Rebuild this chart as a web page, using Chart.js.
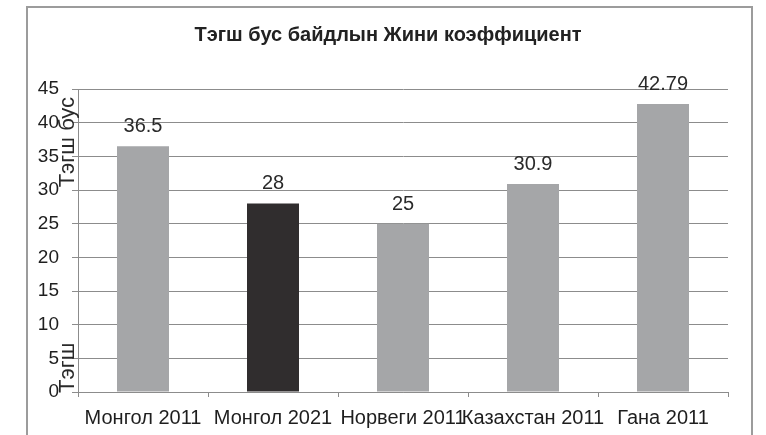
<!DOCTYPE html>
<html lang="mn">
  <head>
    <meta charset="UTF-8" />
    <title>Жини коэффициент</title>
    <script src="https://cdn.jsdelivr.net/npm/chart.js@4.4.0/dist/chart.umd.min.js"></script>
    <style>
      body { margin: 0; background: #fff; }
      #frame { position: absolute; left: 26px; top: 6px; width: 723px; height: 500px;
               border: 2px solid #9c9c9c; border-bottom: none; }
      #wrap { position: absolute; left: 0; top: 0; width: 766px; height: 435px; }
    </style>
  </head>
  <body>
    <div id="frame"></div>
    <div id="wrap"><canvas id="myChart" width="766" height="435"></canvas></div>

    <script>
      // values
      const countries = ['Монгол 2011', 'Монгол 2021', 'Норвеги 2011', 'Казахстан 2011', 'Гана 2011'];
      const gini = [36.5, 28, 25, 30.9, 42.79];
      const barColors = ['#a5a6a8', '#302d2e', '#a5a6a8', '#a5a6a8', '#a5a6a8'];
      const yMin = 0, yMax = 45, yStep = 5;
      const chartTitle = 'Тэгш бус байдлын Жини коэффициент';

      Chart.defaults.font.family = "'Liberation Sans', Arial, sans-serif";
      Chart.defaults.color = '#1e1e1e';

      // numbers over the bars
      const valueLabels = {
        id: 'valueLabels',
        afterDatasetsDraw(chart) {
          const ctx = chart.ctx;
          const meta = chart.getDatasetMeta(0);
          ctx.save();
          ctx.font = "20px 'Liberation Sans', Arial, sans-serif";
          ctx.fillStyle = '#2a2a2a';
          ctx.textAlign = 'center';
          ctx.textBaseline = 'alphabetic';
          meta.data.forEach((bar, i) => {
            ctx.fillText(String(gini[i]), bar.x, bar.y - 14);
          });
          ctx.restore();
        }
      };

      // title centred on the framed box, not on the plot
      const boxTitle = {
        id: 'boxTitle',
        afterDraw(chart) {
          const ctx = chart.ctx;
          ctx.save();
          ctx.font = "bold 20px 'Liberation Sans', Arial, sans-serif";
          ctx.fillStyle = '#222';
          ctx.textAlign = 'center';
          ctx.textBaseline = 'middle';
          ctx.fillText(chartTitle, chart.width / 2 + 5, 35);
          ctx.restore();
        }
      };

      // y axis title: printed twice in the original, once near the top and once at the foot
      const yTitle = {
        id: 'yTitle',
        afterDraw(chart) {
          const ctx = chart.ctx;
          const a = chart.chartArea;
          ctx.save();
          ctx.font = "22px 'Liberation Sans', Arial, sans-serif";
          ctx.fillStyle = '#2a2a2a';
          ctx.translate(a.left - 4, 0);
          ctx.rotate(-Math.PI / 2);
          ctx.textBaseline = 'alphabetic';
          ctx.textAlign = 'left';
          ctx.fillText('Тэгш', -(a.bottom + 1), 0);
          ctx.textAlign = 'right';
          ctx.fillText('Тэгш бус', -(a.top + 8), 0);
          ctx.restore();
        }
      };

      const ctx = document.getElementById('myChart').getContext('2d');
      const myChart = new Chart(ctx, {
        type: 'bar',
        data: {
          labels: countries,
          datasets: [{
            data: gini,
            backgroundColor: barColors,
            borderWidth: 0,
            barPercentage: 0.4,
            categoryPercentage: 1
          }]
        },
        options: {
          responsive: false,
          animation: false,
          layout: { padding: { left: 0, right: 38, top: 89, bottom: 0 } },
          plugins: {
            legend: { display: false },
            tooltip: { enabled: false },
            title: { display: false }
          },
          scales: {
            x: {
              grid: { drawOnChartArea: false, drawTicks: true, tickLength: 5, color: '#8c8c8c' },
              border: { color: '#8c8c8c', width: 1 },
              ticks: { font: { size: 20 }, padding: 9, maxRotation: 0, autoSkip: false, color: '#1e1e1e' },
              afterFit(scale) { scale.height = 43; }
            },
            y: {
              min: yMin,
              max: yMax,
              grid: { color: '#8c8c8c', tickLength: 6 },
              border: { color: '#8c8c8c', width: 1 },
              ticks: { stepSize: yStep, font: { size: 19 }, padding: 13, color: '#1e1e1e' },
              afterFit(scale) { scale.width = 78; }
            }
          }
        },
        plugins: [valueLabels, boxTitle, yTitle]
      });
    </script>
  </body>
</html>
